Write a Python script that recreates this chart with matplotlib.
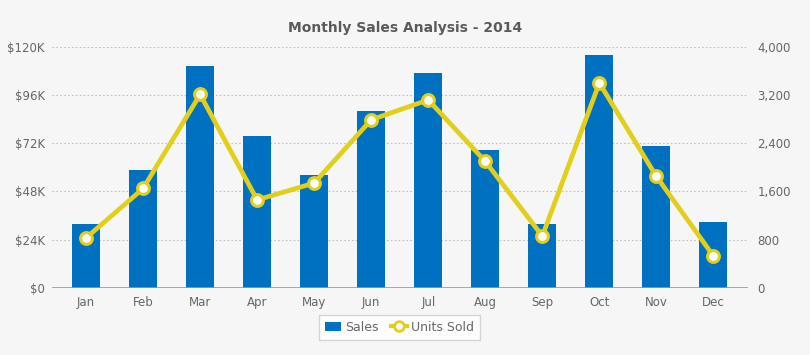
import matplotlib.pyplot as plt
from matplotlib.ticker import FuncFormatter
from matplotlib.lines import Line2D
from matplotlib.patches import Patch

# Data
months = ["Jan", "Feb", "Mar", "Apr", "May", "Jun",
          "Jul", "Aug", "Sep", "Oct", "Nov", "Dec"]
sales = [32000, 58500, 110500, 75500, 56000, 88000,
         107000, 68500, 32000, 116000, 70500, 33000]
units_sold = [830, 1650, 3210, 1460, 1740, 2790,
              3120, 2100, 860, 3400, 1850, 530]

bg = "#f6f6f6"
bar_color = "#0070c0"
line_color = "#e2cf1c"
text_color = "#666666"

fig = plt.figure(figsize=(8.1, 3.55), dpi=100, facecolor=bg)
ax = fig.add_axes([0.064, 0.189, 0.859, 0.679], facecolor=bg)
ax2 = ax.twinx()

x = range(len(months))
ax.bar(x, sales, width=0.49, color=bar_color, zorder=2)
ax2.plot(x, units_sold, color=line_color, linewidth=3.4,
         marker="o", markersize=8.5, markerfacecolor="white",
         markeredgecolor=line_color, markeredgewidth=2.2, zorder=3)

ax.set_xlim(-0.6, 11.6)
ax.set_ylim(0, 120000)
ax2.set_ylim(0, 4000)
ax.set_yticks(range(0, 120001, 24000))
ax2.set_yticks(range(0, 4001, 800))
ax.yaxis.set_major_formatter(FuncFormatter(
    lambda v, p: "$0" if v == 0 else f"${int(v / 1000)}K"))
ax2.yaxis.set_major_formatter(FuncFormatter(lambda v, p: f"{int(v):,}"))
ax.set_xticks(list(x))
ax.set_xticklabels(months)

ax.grid(axis="y", color="#c0c0c0", linestyle=(0, (1.5, 2)), linewidth=0.8, zorder=0)
ax.set_axisbelow(True)
for a in (ax, ax2):
    for s in a.spines.values():
        s.set_visible(False)
    a.tick_params(length=0, colors=text_color, labelsize=8.5)
ax.tick_params(axis="x", pad=6)
ax.tick_params(axis="y", pad=5)
ax2.tick_params(axis="y", pad=7)
ax.axhline(0, color="#999999", linewidth=1.2, zorder=4)

fig.text(0.5, 0.92, "Monthly Sales Analysis - 2014", ha="center", va="center",
         fontsize=10, fontweight="bold", color="#5a5a5a")

handles = [Patch(facecolor=bar_color),
           Line2D([], [], color=line_color, linewidth=3, marker="o", markersize=7,
                  markerfacecolor="white", markeredgecolor=line_color,
                  markeredgewidth=2)]
leg = fig.legend(handles, ["Sales", "Units Sold"], loc="center",
                 bbox_to_anchor=(0.493, 0.078), ncol=2, frameon=True,
                 fancybox=False, fontsize=9, handlelength=1.3,
                 handletextpad=0.3, columnspacing=1.0, borderpad=0.5)
leg.get_frame().set_edgecolor("#cccccc")
leg.get_frame().set_facecolor("white")
for t in leg.get_texts():
    t.set_color(text_color)

fig.savefig("out.png", dpi=100, facecolor=bg)
